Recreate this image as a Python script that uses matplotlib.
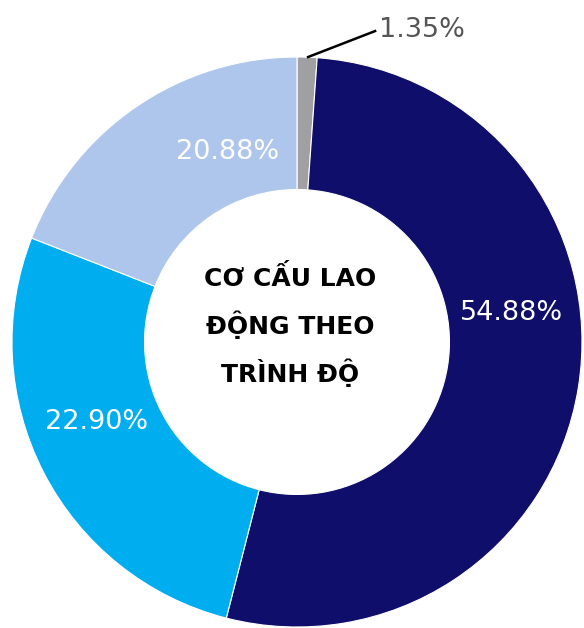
import matplotlib
matplotlib.use("Agg")
import matplotlib.pyplot as plt

# Du lieu
pct_text = ["1.35%", "54.88%", "22.90%", "20.88%"]
# ti le goc doc tu hinh (vong tron ve khong khop hoan toan voi nhan)
shares = [1.13, 52.86, 26.95, 19.06]
colors = ["#A0A0A2", "#0F0E6A", "#00AEEF", "#AEC6EC"]

title_text = "CƠ CẤU LAO\nĐỘNG THEO\nTRÌNH ĐỘ"

fig = plt.figure(figsize=(5.84, 6.28), dpi=100)
# tam (297, 342) px, ban kinh 285 px
ax = fig.add_axes([12 / 584, 1 / 628, 570 / 584, 570 / 628])

wedges, _ = ax.pie(shares, colors=colors, startangle=90, counterclock=False,
                   radius=1.0,
                   wedgeprops=dict(width=0.465, edgecolor="white", linewidth=0.8))
ax.set_xlim(-1, 1)
ax.set_ylim(-1, 1)
ax.set_aspect("equal")
ax.axis("off")

# vi tri nhan (don vi du lieu)
label_pos = [(0.44, 1.093), (0.754, 0.102), (-0.705, -0.281), (-0.242, 0.667)]
label_col = ["#555555", "white", "white", "white"]
for txt, (x, y), c in zip(pct_text, label_pos, label_col):
    ax.text(x, y, txt, ha="center", va="center", fontsize=19.5, color=c,
            family="DejaVu Sans", clip_on=False)

# duong dan cho 1.35%
ax.plot([0.039, 0.274], [1.0, 1.091], color="black", lw=1.8, clip_on=False)

ax.text(-0.025, 0.056, title_text, ha="center", va="center", fontsize=18,
        fontweight="bold", color="black", linespacing=1.84, family="DejaVu Sans")

fig.savefig("out.png", dpi=100)
